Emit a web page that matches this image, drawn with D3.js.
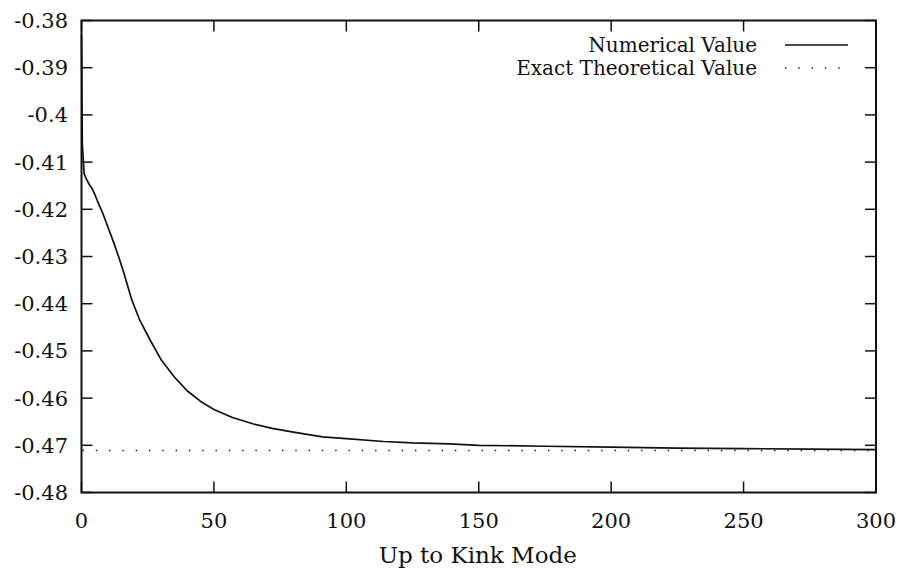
<!DOCTYPE html>
<html>
<head>
<meta charset="utf-8">
<script src="https://cdn.jsdelivr.net/npm/d3@7"></script>
<style>
  html, body { margin: 0; padding: 0; background: #fff; }
  svg { display: block; }
</style>
</head>
<body>
<svg id="chart" width="899" height="571"></svg>
<script>
// ---- data ----
const modes = [0, 0.3, 1, 2, 3, 4, 5, 6, 8, 10, 12, 14, 16, 19, 22, 26, 30, 35, 40, 45, 50, 57, 65, 72, 80, 91, 100, 114, 125, 139, 150, 175, 200, 225, 250, 275, 300];
const numericalValues = [-0.383, -0.406, -0.4125, -0.4138, -0.4148, -0.4156, -0.4168, -0.4182, -0.4208, -0.4238, -0.4268, -0.4300, -0.4335, -0.4392, -0.4435, -0.4478, -0.4518, -0.4555, -0.4585, -0.4607, -0.4624, -0.4641, -0.4655, -0.4664, -0.4672, -0.4682, -0.4686, -0.4692, -0.4695, -0.4697, -0.4700, -0.4702, -0.4704, -0.4706, -0.4707, -0.4708, -0.4709];
const exactValue = -0.4711;
const xTicks = [0, 50, 100, 150, 200, 250, 300];
const yTicks = [-0.38, -0.39, -0.40, -0.41, -0.42, -0.43, -0.44, -0.45, -0.46, -0.47, -0.48];
const yTickLabels = ["-0.38", "-0.39", "-0.4", "-0.41", "-0.42", "-0.43", "-0.44", "-0.45", "-0.46", "-0.47", "-0.48"];
const xLabel = "Up to Kink Mode";
const legendLabels = ["Numerical Value", "Exact Theoretical Value"];

// ---- layout ----
const FONT = "'DejaVu Serif', 'Liberation Serif', serif";
const L = 81.5, R = 876, T = 20.5, B = 492.5;
const svg = d3.select("#chart");
const x = d3.scaleLinear().domain([0, 300]).range([L, R]);
const y = d3.scaleLinear().domain([-0.48, -0.38]).range([B, T]);
const tickLen = 11;
const fontSize = 21;

// ticks (inward, mirrored)
const tk = svg.append("g").attr("stroke", "#111").attr("stroke-width", 1.5);
xTicks.forEach(v => {
  tk.append("line").attr("x1", x(v)).attr("x2", x(v)).attr("y1", B).attr("y2", B - tickLen);
  tk.append("line").attr("x1", x(v)).attr("x2", x(v)).attr("y1", T).attr("y2", T + tickLen);
});
yTicks.forEach(v => {
  tk.append("line").attr("x1", L).attr("x2", L + tickLen).attr("y1", y(v)).attr("y2", y(v));
  tk.append("line").attr("x1", R).attr("x2", R - tickLen).attr("y1", y(v)).attr("y2", y(v));
});

// tick labels
svg.append("g").selectAll("text").data(xTicks).join("text")
  .attr("font-family", FONT).attr("fill", "#111")
  .attr("x", d => x(d)).attr("y", 528)
  .attr("text-anchor", "middle").attr("font-size", fontSize)
  .text(d => d3.format("d")(d));
svg.append("g").selectAll("text").data(yTicks).join("text")
  .attr("font-family", FONT).attr("fill", "#111")
  .attr("x", 68).attr("y", d => y(d)).attr("dy", "0.36em")
  .attr("text-anchor", "end").attr("font-size", fontSize)
  .text((d, i) => yTickLabels[i]);

// axis label
svg.append("text").attr("font-family", FONT).attr("fill", "#111")
  .attr("x", (L + R) / 2 - 1).attr("y", 563)
  .attr("text-anchor", "middle").attr("font-size", 23).text(xLabel);

// exact value (dotted)
svg.append("line")
  .attr("x1", x(0) + 1).attr("x2", x(300)).attr("y1", y(exactValue)).attr("y2", y(exactValue))
  .attr("stroke", "#111").attr("stroke-width", 1.4).attr("stroke-dasharray", "1.4 11.9");

// numerical curve
const line = d3.line().x((d, i) => x(modes[i])).y(d => y(d));
svg.append("path").datum(numericalValues)
  .attr("d", line).attr("fill", "none").attr("stroke", "#111").attr("stroke-width", 1.7)
  .attr("stroke-linejoin", "round");

// frame
svg.append("rect").attr("x", L).attr("y", T).attr("width", R - L).attr("height", B - T)
  .attr("fill", "none").attr("stroke", "#111").attr("stroke-width", 2);

// legend
const lg = svg.append("g");
const legY = [45, 68];
legendLabels.forEach((t, i) => {
  lg.append("text").attr("font-family", FONT).attr("fill", "#111")
    .attr("x", 757).attr("y", legY[i]).attr("dy", "0.34em")
    .attr("text-anchor", "end").attr("font-size", 20).text(t);
});
lg.append("line").attr("x1", 785).attr("x2", 848).attr("y1", legY[0]).attr("y2", legY[0])
  .attr("stroke", "#111").attr("stroke-width", 1.6);
lg.append("line").attr("x1", 785).attr("x2", 850).attr("y1", legY[1]).attr("y2", legY[1])
  .attr("stroke", "#111").attr("stroke-width", 1.4).attr("stroke-dasharray", "1.4 11.9");
</script>
</body>
</html>
